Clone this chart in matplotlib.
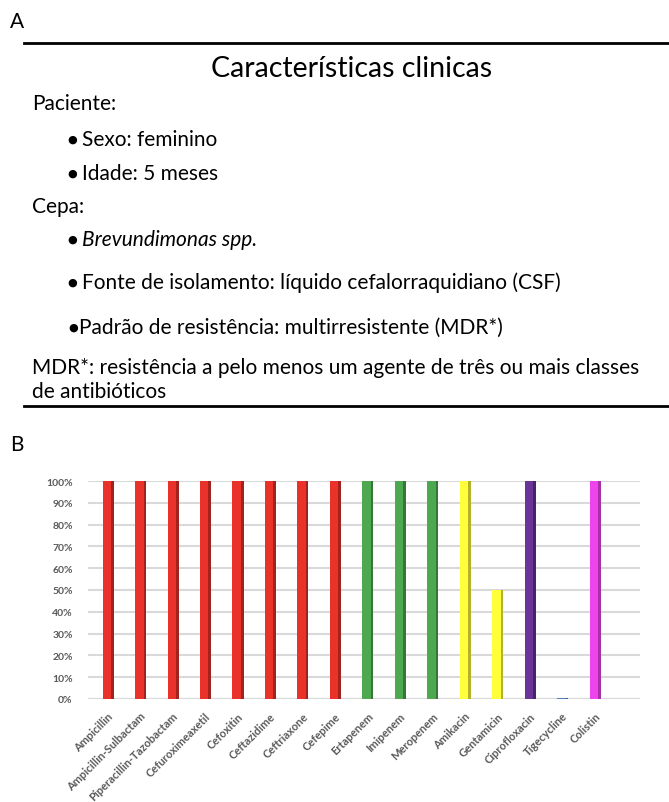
import numpy as np
import matplotlib.pyplot as plt
from matplotlib.colors import to_rgb

plt.rcParams['font.family'] = ['Lato', 'DejaVu Sans']

# Dados do gráfico B
antibioticos = ['Ampicillin', 'Ampicillin-Sulbactam', 'Piperacillin-Tazobactam', 'Cefuroximeaxetil',
                'Cefoxitin', 'Ceftazidime', 'Ceftriaxone', 'Cefepime', 'Ertapenem', 'Imipenem',
                'Meropenem', 'Amikacin', 'Gentamicin', 'Ciprofloxacin', 'Tigecycline', 'Colistin']
resistencia = [100, 100, 100, 100, 100, 100, 100, 100, 100, 100, 100, 100, 50, 100, 0.4, 100]
cores = ['#E8322A'] * 8 + ['#4EA84F'] * 3 + ['#FFFF3C'] * 2 + ['#6A3499', '#4F81BD', '#EE44EE']

W, H = 669, 803
fig = plt.figure(figsize=(W / 100, H / 100), dpi=100)

def fy(y):
    return 1 - y / H

def fx(x):
    return x / W

# Painel A
fig.text(fx(10), fy(22), 'A', fontsize=15, va='center', ha='left')
fig.add_artist(plt.Line2D([fx(24), 1], [fy(44), fy(44)], color='black', lw=2))
fig.text(fx(352), fy(69), 'Características clinicas', fontsize=20.5, va='center', ha='center')

linhas = [
    (32, 104, 'Paciente:', False, False),
    (82, 140, 'Sexo: feminino', True, False),
    (82, 174, 'Idade: 5 meses', True, False),
    (32, 207, 'Cepa:', False, False),
    (82, 240, 'Brevundimonas spp.', True, True),
    (82, 283, 'Fonte de isolamento: líquido cefalorraquidiano (CSF)', True, False),
    (79, 328, 'Padrão de resistência: multirresistente (MDR*)', True, False),
    (32, 368, 'MDR*: resistência a pelo menos um agente de três ou mais classes', False, False),
    (32, 392, 'de antibióticos', False, False),
]
for x, y, txt, bullet, italic in linhas:
    fig.text(fx(x), fy(y), txt, fontsize=15, va='center', ha='left',
             style='italic' if italic else 'normal')
    if bullet:
        gap = 1 if x < 80 else 5
        fig.text(fx(x - gap), fy(y), '●', fontsize=8, va='center', ha='right',
                 family='DejaVu Sans')

fig.add_artist(plt.Line2D([fx(24), 1], [fy(407), fy(407)], color='black', lw=2))
fig.text(fx(10), fy(445), 'B', fontsize=15, va='center', ha='left')

# Painel B
ax = fig.add_axes([fx(88), fy(700), fx(640) - fx(88), (700 - 482) / H])
x = np.arange(len(antibioticos))
escuras = [tuple(c * 0.7 for c in to_rgb(cor)) for cor in cores]
ax.bar(x, resistencia, width=0.3, color=cores, zorder=3)
ax.bar(x + 0.15, resistencia, width=0.08, color=escuras, zorder=3)

ax.set_ylim(0, 100)
ax.set_xlim(-0.6, 16.4)
ax.set_yticks(range(0, 101, 10))
ax.set_yticklabels([f'{v}%' for v in range(0, 101, 10)], fontsize=7.5, color='#595959',
                   fontweight='bold')
ax.set_xticks(x)
ax.set_xticklabels(antibioticos, rotation=45, ha='right', rotation_mode='anchor',
                   fontsize=8, color='#595959', fontweight='bold')
ax.grid(axis='y', color='#D9D9D9', lw=1.5, zorder=0)
ax.tick_params(axis='y', length=0, pad=11)
ax.tick_params(axis='x', length=0, pad=8)
for s in ax.spines.values():
    s.set_visible(False)
ax.axhline(0, color='#BFBFBF', lw=1.5, zorder=1)

fig.savefig('out.png', dpi=100)
